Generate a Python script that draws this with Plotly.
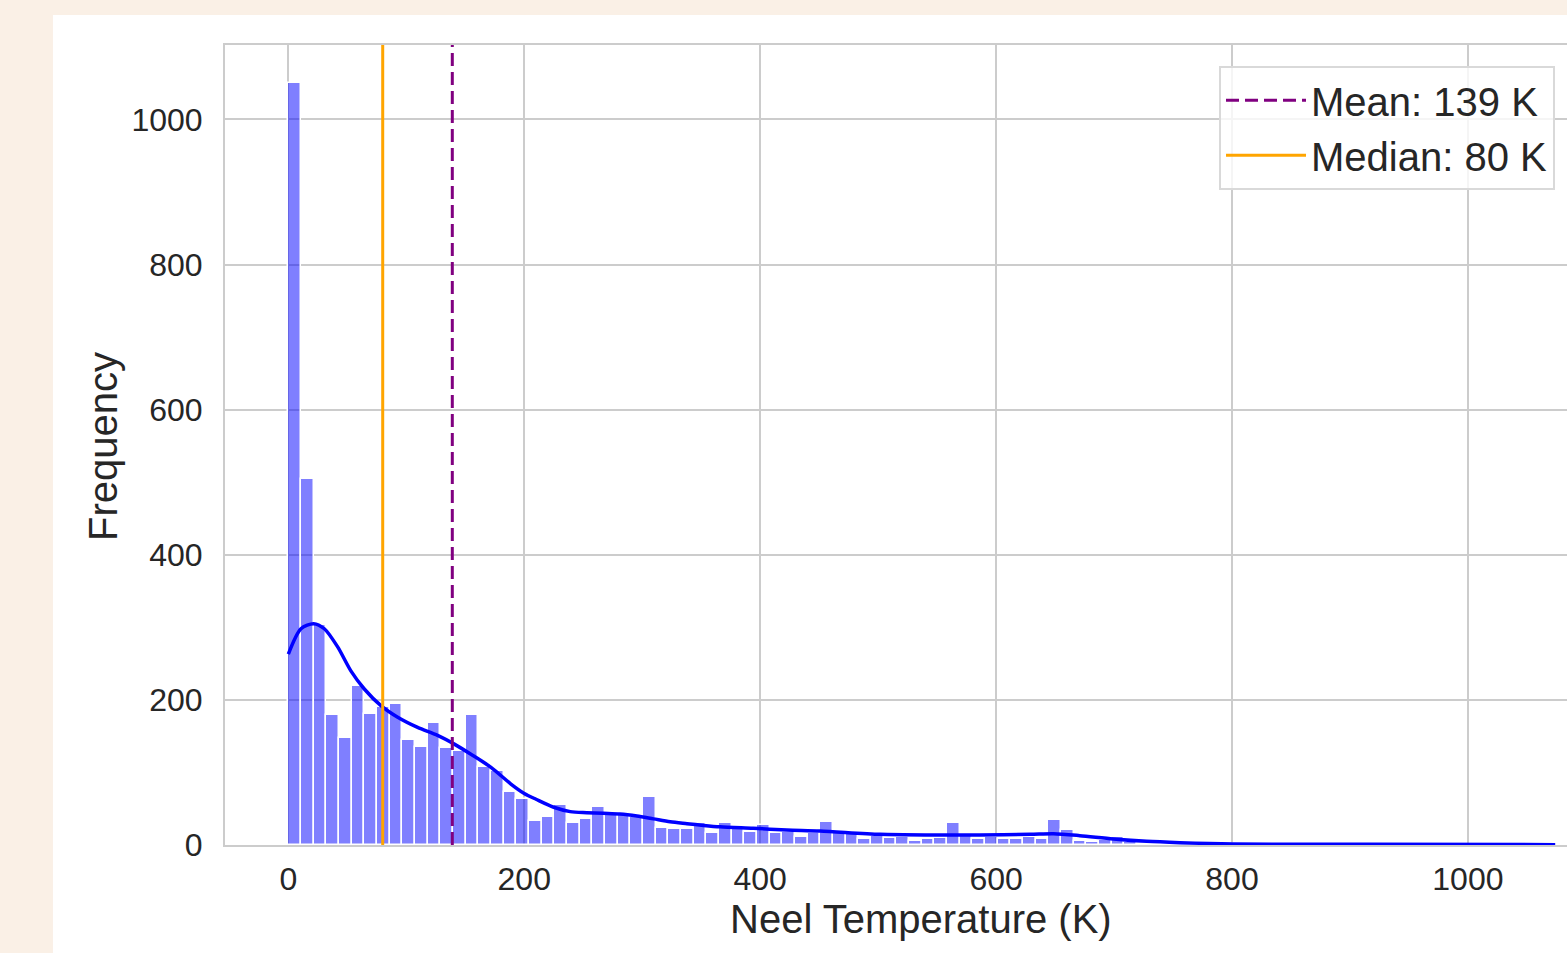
import numpy as np
import plotly.graph_objects as go

# ---------------- data ----------------
counts = [1050, 504, 303, 179, 147, 219, 181, 190, 195, 145,
          135, 168, 133, 130, 179, 108, 102, 73, 64, 33,
          39, 55, 30, 36, 53, 43, 41, 39, 66, 23,
          22, 22, 31, 17, 30, 22, 18, 27, 17, 18,
          11, 17, 32, 16, 15, 8, 13, 9, 11, 6,
          8, 9, 31, 13, 8, 11, 8, 8, 11, 8,
          35, 20, 5, 4, 7, 11, 4, 2, 2, 1,
          1, 0, 1, 0, 1, 0, 0, 1, 0, 0,
          0, 1, 0, 0, 0, 0, 0, 0, 1, 0,
          0, 0, 0, 0, 0, 0, 0, 0, 0, 1]
data_min = 0.0
data_max = 1074.0

kde_x = [0, 10.7, 21.5, 30.5, 41.8, 53, 64.4, 78.5, 92.7, 109.6,
         126.5, 140.7, 154.8, 171.8, 188.7, 200, 210, 225, 239, 253,
         267, 281, 295.5, 309.6, 323.7, 338, 352, 366, 394, 422.6,
         450.8, 501.7, 544, 586, 628.8, 648.6, 671, 699.4, 727.7, 756,
         801, 914, 1074]
kde_y = [263, 298, 305, 298, 273, 240, 215, 192, 176, 162,
         151, 139, 125, 107, 84, 71, 63, 52, 46, 44.6,
         43.7, 42.8, 40, 36, 32, 29.4, 27, 25, 23, 20.7,
         19.3, 14.7, 13.8, 13.8, 14.7, 15.6, 12.9, 8.3, 5, 3.2,
         1.4, 0.9, 0.5]

mean_val = 139
median_val = 80
x_ticks = [0, 200, 400, 600, 800, 1000]
y_ticks = [0, 200, 400, 600, 800, 1000]

# ---------------- derived ----------------
edges = np.linspace(data_min, data_max, len(counts) + 1)
centers = (edges[:-1] + edges[1:]) / 2
bin_w = edges[1] - edges[0]
y_max = max(counts) * 1.05
pad = 0.05 * (data_max - data_min)

FONT = "Liberation Sans, Arial, Helvetica, sans-serif"
TXT = "#262626"
GRID = "#cccccc"

fig = go.Figure()

fig.add_trace(go.Bar(
    x=centers, y=counts, width=bin_w,
    marker=dict(color="rgba(0,0,255,0.5)", line=dict(color="white", width=1.5)),
    showlegend=False, hoverinfo="x+y"))

fig.add_trace(go.Scatter(
    x=kde_x, y=kde_y, mode="lines",
    line=dict(color="blue", width=3.5, shape="spline", smoothing=0.8),
    showlegend=False))

fig.add_trace(go.Scatter(
    x=[mean_val, mean_val], y=[0, y_max], mode="lines",
    line=dict(color="purple", width=3, dash="13px,6px"),
    name=f"Mean: {mean_val} K"))

fig.add_trace(go.Scatter(
    x=[median_val, median_val], y=[0, y_max], mode="lines",
    line=dict(color="orange", width=3),
    name=f"Median: {median_val} K"))

fig.update_layout(
    width=1567, height=953,
    margin=dict(l=225, r=0, t=45, b=108),
    paper_bgcolor="#FAF0E6",
    plot_bgcolor="white",
    font=dict(family=FONT, color=TXT, size=32),
    bargap=0,
    shapes=[dict(type="rect", xref="paper", yref="paper",
                 x0=-0.1282, x1=1.3, y0=-0.4, y1=1.0375,
                 fillcolor="white", line=dict(width=0), layer="below")],
    xaxis=dict(range=[data_min - pad, data_max + 10], tickvals=x_ticks,
               showgrid=True, gridcolor=GRID, gridwidth=2,
               showline=True, linecolor=GRID, linewidth=2, mirror=True,
               zeroline=False, ticks="", ticklabelstandoff=5,
               tickfont=dict(size=32, color=TXT)),
    yaxis=dict(range=[0, y_max], tickvals=y_ticks,
               showgrid=True, gridcolor=GRID, gridwidth=2,
               showline=True, linecolor=GRID, linewidth=2, mirror=False,
               zeroline=False, ticks="", ticklabelstandoff=14,
               tickfont=dict(size=32, color=TXT)),
    legend=dict(x=0.7407, y=0.974, xanchor="left", yanchor="top",
                bgcolor="rgba(255,255,255,0.8)", bordercolor="#d9d9d9", borderwidth=2,
                font=dict(size=40, color=TXT, family=FONT), itemwidth=80,
                tracegroupgap=0),
    annotations=[
        dict(text="Neel Temperature (K)", xref="paper", yref="paper",
             x=0.5186, y=-0.0925, xanchor="center", yanchor="middle",
             showarrow=False, font=dict(size=40, color=TXT)),
        dict(text="Frequency", xref="paper", yref="paper",
             x=-0.0909, y=0.4975, xanchor="center", yanchor="middle",
             textangle=-90, showarrow=False, font=dict(size=40, color=TXT)),
    ],
)

fig.write_html("out.html", config={"displayModeBar": False},
               post_script="document.body.style.margin='0';document.body.style.overflow='hidden';")
